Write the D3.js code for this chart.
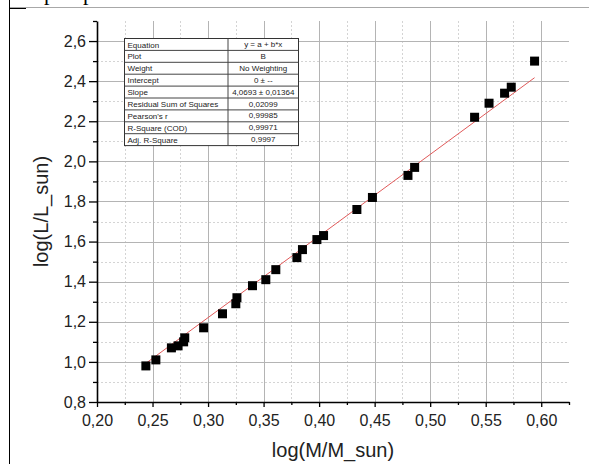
<!DOCTYPE html>
<html>
<head>
<meta charset="utf-8">
<script src="https://cdn.jsdelivr.net/npm/d3@7"></script>
<style>
  html, body { margin: 0; padding: 0; background: #fff; }
  svg { display: block; }
  text { font-family: "Liberation Sans", Arial, sans-serif; }
</style>
</head>
<body>
<svg id="chart" width="589" height="464"></svg>
<script>
// ---- data ----
const logMass = [0.244, 0.253, 0.267, 0.273, 0.278, 0.279, 0.296, 0.313, 0.325, 0.326,
                 0.340, 0.352, 0.361, 0.380, 0.385, 0.398, 0.404, 0.434, 0.448, 0.480,
                 0.486, 0.540, 0.553, 0.567, 0.573, 0.594];
const logLum  = [0.98, 1.01, 1.07, 1.08, 1.10, 1.12, 1.17, 1.24, 1.29, 1.32,
                 1.38, 1.41, 1.46, 1.52, 1.56, 1.61, 1.63, 1.76, 1.82, 1.93,
                 1.97, 2.22, 2.29, 2.34, 2.37, 2.50];
const fitSlope = 4.0693;
const fitIntercept = 0;
const xMajorTicks = [0.20, 0.25, 0.30, 0.35, 0.40, 0.45, 0.50, 0.55, 0.60];
const xMinorTicks = [0.225, 0.275, 0.325, 0.375, 0.425, 0.475, 0.525, 0.575, 0.625];
const yMajorTicks = [0.8, 1.0, 1.2, 1.4, 1.6, 1.8, 2.0, 2.2, 2.4, 2.6];
const yMinorTicks = [0.9, 1.1, 1.3, 1.5, 1.7, 1.9, 2.1, 2.3, 2.5, 2.7];
const tableLabels = ["Equation", "Plot", "Weight", "Intercept", "Slope",
                     "Residual Sum of Squares", "Pearson's r", "R-Square (COD)", "Adj. R-Square"];
const tableValues = ["y = a + b*x", "B", "No Weighting", "0 \u00b1 --", "4,0693 \u00b1 0,01364",
                     "0,02099", "0,99985", "0,99971", "0,9997"];
const xTitle = "log(M/M_sun)";
const yTitle = "log(L/L_sun)";

// ---- layout ----
const pL = 97, pR = 569, pT = 21, pB = 402;
const svg = d3.select("#chart");
const x = d3.scaleLinear().domain([0.20, 0.625]).range([pL, pR]);
const y = d3.scaleLinear().domain([0.8, 2.7]).range([pB, pT]);
const comma = f => v => d3.format(f)(v).replace(".", ",");

// page frame remnants
svg.append("line").attr("x1", 9).attr("x2", 589).attr("y1", 7.5).attr("y2", 7.5)
  .attr("stroke", "#a8a8a8").attr("stroke-width", 1);
svg.append("line").attr("x1", 9.5).attr("x2", 9.5).attr("y1", 0).attr("y2", 464)
  .attr("stroke", "#000").attr("stroke-width", 1);
svg.append("line").attr("x1", 9).attr("x2", 26).attr("y1", 8.5).attr("y2", 8.5)
  .attr("stroke", "#000").attr("stroke-width", 1);
svg.append("text").attr("x", 44).attr("y", 0).attr("font-size", 22)
  .style("font-family", "'Liberation Serif', serif").text("p");
svg.append("text").attr("x", 83).attr("y", 0).attr("font-size", 22)
  .style("font-family", "'Liberation Serif', serif").text("p");

// ---- grid ----
const grid = svg.append("g");
grid.selectAll(".vmin").data(xMinorTicks.filter(v => v < 0.62)).join("line")
  .attr("x1", d => Math.round(x(d)) + 0.5).attr("x2", d => Math.round(x(d)) + 0.5)
  .attr("y1", pT).attr("y2", pB)
  .attr("stroke", "#d4d4d4").attr("stroke-dasharray", "2,2");
grid.selectAll(".hmin").data(yMinorTicks.filter(v => v < 2.65)).join("line")
  .attr("y1", d => Math.round(y(d)) + 0.5).attr("y2", d => Math.round(y(d)) + 0.5)
  .attr("x1", pL).attr("x2", pR)
  .attr("stroke", "#d4d4d4").attr("stroke-dasharray", "2,2");
grid.selectAll(".vmaj").data(xMajorTicks.filter(v => v > 0.21)).join("line")
  .attr("x1", d => Math.round(x(d)) + 0.5).attr("x2", d => Math.round(x(d)) + 0.5)
  .attr("y1", pT).attr("y2", pB)
  .attr("stroke", "#b4b4b4");
grid.selectAll(".hmaj").data(yMajorTicks.filter(v => v > 0.85)).join("line")
  .attr("y1", d => Math.round(y(d)) + 0.5).attr("y2", d => Math.round(y(d)) + 0.5)
  .attr("x1", pL).attr("x2", pR)
  .attr("stroke", "#b4b4b4");

// ---- axes ----
const xAxis = d3.axisBottom(x).tickValues(xMajorTicks).tickFormat(comma(".2f"))
  .tickSizeInner(5).tickSizeOuter(0).tickPadding(8);
const gx = svg.append("g").attr("transform", `translate(0,${pB})`).call(xAxis);
gx.selectAll("text").attr("font-size", 16).attr("fill", "#222").style("font-family", "'Liberation Sans', Arial, sans-serif");
const xMinorAxis = d3.axisBottom(x).tickValues(xMinorTicks).tickFormat("").tickSizeInner(3).tickSizeOuter(0);
const gxm = svg.append("g").attr("transform", `translate(0,${pB})`).call(xMinorAxis);
gxm.select(".domain").remove();

const yAxis = d3.axisLeft(y).tickValues(yMajorTicks).tickFormat(comma(".1f"))
  .tickSizeInner(8).tickSizeOuter(0).tickPadding(3);
const gy = svg.append("g").attr("transform", `translate(${pL},0)`).call(yAxis);
gy.selectAll("text").attr("font-size", 16).attr("fill", "#222").style("font-family", "'Liberation Sans', Arial, sans-serif");
const yMinorAxis = d3.axisLeft(y).tickValues(yMinorTicks).tickFormat("").tickSizeInner(4).tickSizeOuter(0);
const gym = svg.append("g").attr("transform", `translate(${pL},0)`).call(yMinorAxis);
gym.select(".domain").remove();

[gx, gy, gxm, gym].forEach(g => {
  g.selectAll(".domain").attr("stroke", "#000").attr("stroke-width", 1.6);
  g.selectAll(".tick line").attr("stroke", "#000").attr("stroke-width", 1.3);
});

// axis titles
svg.append("text").attr("x", (pL + pR) / 2).attr("y", 457)
  .attr("text-anchor", "middle").attr("font-size", 20).attr("fill", "#222").text(xTitle);
svg.append("text").attr("transform", `translate(48,${(pT + pB) / 2}) rotate(-90)`)
  .attr("text-anchor", "middle").attr("font-size", 20).attr("fill", "#222").text(yTitle);

// ---- fit line ----
const xMin = d3.min(logMass), xMax = d3.max(logMass);
svg.append("line")
  .attr("x1", x(xMin)).attr("y1", y(fitIntercept + fitSlope * xMin))
  .attr("x2", x(xMax)).attr("y2", y(fitIntercept + fitSlope * xMax))
  .attr("stroke", "#e05a5a").attr("stroke-width", 1);

// ---- points ----
const sz = 9;
svg.append("g").selectAll("rect").data(logMass.map((m, i) => [m, logLum[i]])).join("rect")
  .attr("x", d => x(d[0]) - sz / 2).attr("y", d => y(d[1]) - sz / 2)
  .attr("width", sz).attr("height", sz).attr("fill", "#000");

// ---- results table ----
const tX = 124.5, tW = 174, c1 = 103.5, rowH = 11.9, tY = 38.5;
const tbl = svg.append("g");
tbl.append("rect").attr("x", tX).attr("y", tY).attr("width", tW).attr("height", rowH * tableLabels.length)
  .attr("fill", "#fff").attr("stroke", "#333").attr("stroke-width", 1);
tbl.selectAll(".rl").data(d3.range(1, tableLabels.length)).join("line")
  .attr("x1", tX).attr("x2", tX + tW)
  .attr("y1", i => tY + i * rowH).attr("y2", i => tY + i * rowH)
  .attr("stroke", "#444").attr("stroke-width", 1);
tbl.append("line").attr("x1", tX + c1).attr("x2", tX + c1).attr("y1", tY).attr("y2", tY + rowH * tableLabels.length)
  .attr("stroke", "#444").attr("stroke-width", 1);
tbl.selectAll(".lab").data(tableLabels).join("text")
  .attr("x", tX + 3).attr("y", (d, i) => tY + i * rowH + 9)
  .attr("font-size", 8).attr("fill", "#222").text(d => d);
tbl.selectAll(".val").data(tableValues).join("text")
  .attr("x", tX + c1 + (tW - c1) / 2).attr("y", (d, i) => tY + i * rowH + 8.5)
  .attr("text-anchor", "middle").attr("font-size", 8).attr("fill", "#222").text(d => d);
</script>
</body>
</html>
